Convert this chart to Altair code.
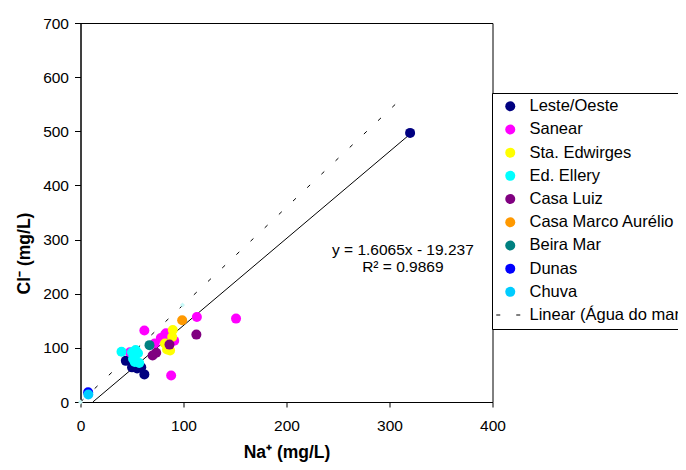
import altair as alt
import pandas as pd

series_names = ["Leste/Oeste", "Sanear", "Sta. Edwirges", "Ed. Ellery", "Casa Luiz",
                "Casa Marco Aurélio", "Beira Mar", "Dunas", "Chuva"]
series_colors = ["#000080", "#FF00FF", "#FFFF00", "#00FFFF", "#800080",
                 "#FF9900", "#008080", "#0000FF", "#00CCFF"]
line_label = "Linear (Água do mar)"

# Na+ (x) and Cl- (y) values per site, mg/L
leste_na = [44, 52, 50, 55, 59, 62, 320]
leste_cl = [76, 72, 64, 62, 64, 51, 497]
sanear_na = [48, 62, 72, 78, 82, 83, 91, 88, 113, 151]
sanear_cl = [92, 132, 108, 118, 124, 127, 113, 49, 157, 154]
edwirges_na = [89.6, 84, 87, 82, 89]
edwirges_cl = [133, 97, 95, 108, 120]
ellery_na = [39.8, 50, 53.5, 55.8, 51, 57, 53, 52.7]
ellery_cl = [92.8, 92, 96, 90, 80, 72, 86, 74]
luiz_na = [70, 73.5, 86.4, 112.5]
luiz_cl = [86, 91, 106, 124.5]
marco_na = [98.7]
marco_cl = [151]
beira_na = [67]
beira_cl = [105]
dunas_na = [7.4]
dunas_cl = [18]
chuva_na = [7.6]
chuva_cl = [14]

# seawater reference points and its linear trend
mar_na = [0, 99]
mar_cl = [0, 179]
mar_line_na = [0, 313]
mar_line_cl = [0, 563]

# fitted trend line y = 1.6065x - 19.237
fit_na = [11.97, 320]
fit_cl = [0, 494.8]

eq_text = ["y = 1.6065x - 19.237", "R² = 0.9869"]
eq_x = [313, 313]
eq_y = [280, 249]

groups = [leste_na, sanear_na, edwirges_na, ellery_na, luiz_na, marco_na, beira_na, dunas_na, chuva_na]
groups_cl = [leste_cl, sanear_cl, edwirges_cl, ellery_cl, luiz_cl, marco_cl, beira_cl, dunas_cl, chuva_cl]
rows = []
order = 0
for name, xs, ys in zip(series_names, groups, groups_cl):
    for a, b in zip(xs, ys):
        rows.append({"Local": name, "Na": a, "Cl": b, "ord": order})
        order += 1
points_df = pd.DataFrame(rows)

FONT = "Liberation Sans"
dash_path = "M-2.8,-0.1H-2V0.1H-2.8ZM1.2,-0.1H2V0.1H1.2Z"

xscale = alt.Scale(domain=[0, 400], nice=False, zero=False)
yscale = alt.Scale(domain=[0, 700], nice=False, zero=False)

xaxis = alt.Axis(values=[0, 100, 200, 300, 400], title="Na⁺ (mg/L)", grid=False,
                 tickSize=5, labelPadding=11, titlePadding=10, labelFlush=False)
yaxis = alt.Axis(values=[0, 100, 200, 300, 400, 500, 600, 700], title="Cl⁻ (mg/L)", grid=False,
                 tickSize=6, labelPadding=6, titleX=-56.5, titleY=230, labelFlush=False,
                 titleAlign="center", titleBaseline="middle")

legend = alt.Legend(orient="none", legendX=411.5, legendY=70, title=None,
                    strokeColor="black", fillColor="white", padding=5,
                    symbolOffset=5, labelOffset=11, rowPadding=6.2, symbolSize=100,
                    symbolStrokeWidth=0, labelFont=FONT, labelFontSize=16.5,
                    labelColor="black", labelLimit=400)

dom = series_names + [line_label]

points = alt.Chart(points_df).mark_point(filled=True, size=100, opacity=1, strokeWidth=0).encode(
    x=alt.X("Na:Q", scale=xscale, axis=xaxis),
    y=alt.Y("Cl:Q", scale=yscale, axis=yaxis),
    color=alt.Color("Local:N", scale=alt.Scale(domain=dom, range=series_colors + ["#000000"]), legend=legend),
    shape=alt.Shape("Local:N", scale=alt.Scale(domain=dom, range=["circle"] * 9 + [dash_path]), legend=legend),
    order=alt.Order("ord:Q"),
)

mar_df = pd.DataFrame({"Na": mar_na, "Cl": mar_cl})
mar_pts = alt.Chart(mar_df).mark_point(filled=True, size=25, color="#C8F8F8", opacity=1, shape="diamond").encode(
    x=alt.X("Na:Q", scale=xscale), y=alt.Y("Cl:Q", scale=yscale))

mar_line_df = pd.DataFrame({"Na": mar_line_na, "Cl": mar_line_cl})
mar_line = alt.Chart(mar_line_df).mark_line(color="black", strokeWidth=1, strokeDash=[4, 15.5]).encode(
    x=alt.X("Na:Q", scale=xscale), y=alt.Y("Cl:Q", scale=yscale))

fit_df = pd.DataFrame({"Na": fit_na, "Cl": fit_cl})
fit_line = alt.Chart(fit_df).mark_line(color="black", strokeWidth=1).encode(
    x=alt.X("Na:Q", scale=xscale), y=alt.Y("Cl:Q", scale=yscale))

eq_df = pd.DataFrame({"t": eq_text, "Na": eq_x, "Cl": eq_y})
eq = alt.Chart(eq_df).mark_text(font=FONT, fontSize=15.5, color="black", align="center").encode(
    x=alt.X("Na:Q", scale=xscale), y=alt.Y("Cl:Q", scale=yscale), text="t:N")

chart = alt.layer(mar_line, fit_line, mar_pts, points, eq).properties(
    width=412, height=379,
    autosize=alt.AutoSizeParams(type="none"),
    padding={"left": 72.5, "top": 15, "right": 185.5, "bottom": 60},
    background="white",
).configure_view(stroke="black", strokeWidth=1).configure_axis(
    domainColor="black", tickColor="black", labelColor="black", titleColor="black",
    labelFont=FONT, labelFontSize=15.5, titleFont=FONT, titleFontSize=17.5, titleFontWeight="bold",
)

chart.save("out.html", embed_options={"renderer": "svg", "actions": False})
